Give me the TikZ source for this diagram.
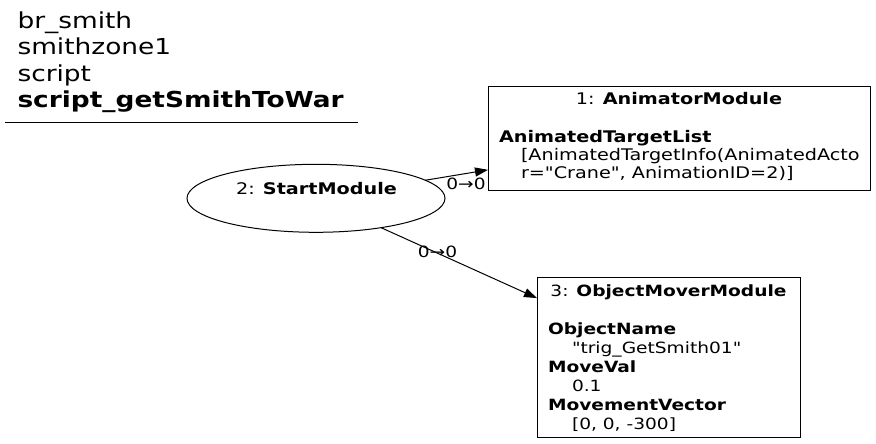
\documentclass[tikz,border=0pt]{standalone}
\usepackage{fontspec}
\setmainfont{DejaVu Sans}[FakeStretch=1.2,Ligatures=TeXOff]
\usetikzlibrary{arrows.meta,shapes.geometric}
\newcommand\stackL[2]{\vtop{\baselineskip=#1\lineskiplimit=-100pt\lineskip=0pt\relax\halign{##\hfil\cr#2\crcr}}}
\begin{document}
\begin{tikzpicture}[x=1pt,y=-1pt,line width=1pt,
  txt/.style={inner sep=0pt,outer sep=0pt,font=\fontsize{15.5}{18.5}\selectfont},
  txtb/.style={inner sep=0pt,outer sep=0pt,font=\fontsize{16}{18.5}\selectfont},
  box/.style={draw,rectangle,inner sep=0pt,outer sep=0pt},
  oval/.style={draw,ellipse,inner sep=0pt,outer sep=0pt},
  edge/.style={draw,-{Triangle[length=13pt,width=9pt]}},
  elab/.style={txt,anchor=center}]
\useasboundingbox (0,0) rectangle (876,444);
% title
\node[anchor=base west,inner sep=0pt,font=\fontsize{22}{26.5}\selectfont] (title) at (17,28.5)
  {\stackL{26.5pt}{br\_smith\cr smithzone1\cr script\cr \textbf{script\_getSmithToWar}}};
\draw (5,122.5) -- (358,122.5);
% nodes
\node[oval,minimum width=258pt,minimum height=68pt] (s) at (316,198.3) {};
\node[txtb,anchor=base] (st) at (316.5,194) {2: \textbf{StartModule}};
\node[box,minimum width=382pt,minimum height=103pt] (a) at (679,138.5) {};
\node[txtb,anchor=base] (at) at (679,105) {1: \textbf{AnimatorModule}};
\node[txtb,anchor=base west] (aa) at (499,142.5) {\stackL{17.8pt}{\textbf{AnimatedTargetList}\cr
  \hspace*{22pt}[AnimatedTargetInfo(AnimatedActo\cr
  \hspace*{22pt}r="Crane", AnimationID=2)]}};
\node[box,minimum width=263pt,minimum height=160pt] (c) at (668.5,357) {};
\node[txt,anchor=base] (ct) at (668.5,296.7) {3: \textbf{ObjectMoverModule}};
\node[txt,anchor=base west] (cc) at (548,334) {\stackL{19pt}{\textbf{ObjectName}\cr
  \hspace*{24pt}"trig\_GetSmith01"\cr
  \textbf{MoveVal}\cr
  \hspace*{24pt}0.1\cr
  \textbf{MovementVector}\cr
  \hspace*{24pt}[0, 0, -300]}};
% edges
\draw[edge] (s) -- (a);
\draw[edge] (s) -- (c);
\node[elab] (l1) at (466,184) {0→0};
\node[elab] (l2) at (437.5,251.5) {0→0};
\end{tikzpicture}
\end{document}
